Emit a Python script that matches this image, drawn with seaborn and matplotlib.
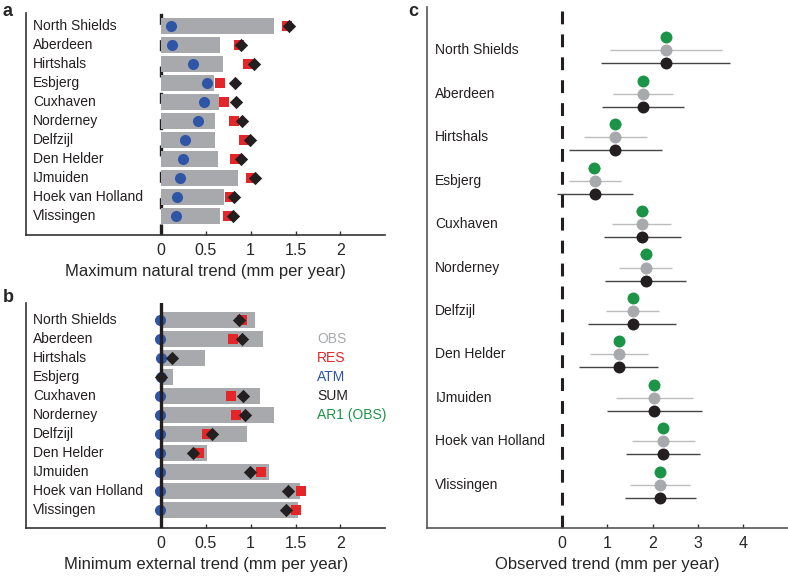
import numpy as np
import pandas as pd
import matplotlib
matplotlib.use("Agg")
import matplotlib.pyplot as plt
import seaborn as sns

stations = ["North Shields", "Aberdeen", "Hirtshals", "Esbjerg", "Cuxhaven", "Norderney",
            "Delfzijl", "Den Helder", "IJmuiden", "Hoek van Holland", "Vlissingen"]

# a: maximum natural trend
a_obs = [1.26, 0.66, 0.69, 0.59, 0.65, 0.60, 0.60, 0.64, 0.86, 0.70, 0.66]
a_res = [1.41, 0.87, 0.97, 0.66, 0.70, 0.81, 0.93, 0.83, 1.01, 0.77, 0.75]
a_atm = [0.11, 0.13, 0.36, 0.51, 0.48, 0.41, 0.27, 0.25, 0.21, 0.18, 0.17]
a_sum = [1.43, 0.89, 1.04, 0.83, 0.84, 0.91, 0.99, 0.89, 1.05, 0.81, 0.80]

# b: minimum external trend (RES hidden behind SUM for Hirtshals / Esbjerg)
b_obs = [1.05, 1.14, 0.49, 0.14, 1.11, 1.26, 0.96, 0.51, 1.20, 1.55, 1.53]
b_res = [0.91, 0.80, np.nan, np.nan, 0.78, 0.84, 0.52, 0.43, 1.12, 1.56, 1.51]
b_atm = [-0.01, -0.01, 0.00, 0.00, -0.01, -0.01, -0.01, -0.01, -0.01, -0.01, -0.01]
b_sum = [0.87, 0.90, 0.13, 0.00, 0.92, 0.94, 0.57, 0.36, 0.99, 1.42, 1.39]

# c: observed trend with uncertainty ranges
c_trend = [2.29, 1.79, 1.18, 0.72, 1.76, 1.85, 1.56, 1.25, 2.04, 2.24, 2.17]
c_ar1 = [2.30, 1.79, 1.18, 0.71, 1.76, 1.85, 1.56, 1.25, 2.04, 2.24, 2.17]
c_ar1_err = [0.08, 0.08, 0.12, 0.13, 0.13, 0.12, 0.08, 0.08, 0.08, 0.08, 0.08]
c_obs_lo = [1.05, 1.13, 0.49, 0.14, 1.11, 1.25, 0.97, 0.61, 1.20, 1.54, 1.51]
c_obs_hi = [3.54, 2.45, 1.87, 1.30, 2.41, 2.44, 2.14, 1.89, 2.89, 2.93, 2.84]
c_sum_lo = [0.86, 0.89, 0.14, -0.12, 0.92, 0.94, 0.58, 0.37, 1.00, 1.42, 1.39]
c_sum_hi = [3.72, 2.69, 2.22, 1.56, 2.63, 2.75, 2.53, 2.13, 3.09, 3.06, 2.97]

legend_items = ["OBS", "RES", "ATM", "SUM", "AR1 (OBS)"]

GREY = "#a7a9ac"
RED = "#e52629"
BLUE = "#2f56a6"
BLACK = "#231f20"
GREEN = "#1c9447"
legend_colors = [GREY, RED, BLUE, BLACK, GREEN]

sns.set_style("white")
plt.rcParams["font.family"] = ["Liberation Sans", "DejaVu Sans"]

rows = np.arange(len(stations))[::-1] + 1

fig = plt.figure(figsize=(7.88, 5.76), dpi=100)
ax_a = fig.add_axes([0.033, 0.592, 0.456, 0.3854])
ax_b = fig.add_axes([0.033, 0.0833, 0.456, 0.3906])
ax_c = fig.add_axes([0.5415, 0.0833, 0.4585, 0.9045])


def trend_panel(ax, obs, res, atm, tot, xlabel, solid_zero):
    df = pd.DataFrame({"station": stations, "row": rows, "obs": obs,
                       "res": res, "atm": atm, "sum": tot})
    if solid_zero:
        ax.axvline(0, color=BLACK, lw=2.4, zorder=3.5)
    else:
        ax.axvline(0, color=BLACK, lw=2.4, ls=(0, (3.3, 4.6)), zorder=1)
    sns.barplot(data=df, x="obs", y="row", orient="y", native_scale=True,
                width=0.85, color=GREY, saturation=1, linewidth=0, ax=ax, zorder=2)
    sns.scatterplot(data=df, x="atm", y="row", color=BLUE, s=64, marker="o",
                    linewidth=0, ax=ax, zorder=3)
    sns.scatterplot(data=df.dropna(subset=["res"]), x="res", y="row", color=RED, s=52,
                    marker="s", linewidth=0, ax=ax, zorder=4)
    sns.scatterplot(data=df, x="sum", y="row", color=BLACK, s=46, marker="D",
                    linewidth=0, ax=ax, zorder=5)
    for name, r in zip(stations, rows):
        ax.text(-1.42, r, name, fontsize=10, va="center", ha="left", color="#231f20")
    ax.set_xlim(-1.5, 2.5)
    ax.set_xticks([0, 0.5, 1, 1.5, 2])
    ax.set_xticklabels(["0", "0.5", "1", "1.5", "2"])
    ax.set_yticks([])
    ax.set_xlabel(xlabel, fontsize=12, labelpad=4)
    ax.set_ylabel("")


trend_panel(ax_a, a_obs, a_res, a_atm, a_sum, "Maximum natural trend (mm per year)", False)
ax_a.set_ylim(0, 11.7)
trend_panel(ax_b, b_obs, b_res, b_atm, b_sum, "Minimum external trend (mm per year)", True)
ax_b.set_ylim(0.05, 11.9)
for i, (lab, col) in enumerate(zip(legend_items, legend_colors)):
    ax_b.text(1.74, rows[1 + i], lab, color=col, fontsize=10, va="center", ha="left")

# c
ax_c.axvline(0, color=BLACK, lw=2.2, ls=(0, (4.2, 3.3)), zorder=1)
ax_c.errorbar(c_trend, rows, xerr=[np.array(c_trend) - np.array(c_obs_lo),
                                   np.array(c_obs_hi) - np.array(c_trend)],
              fmt="o", color=GREY, ecolor="#bdbdbd", elinewidth=1, capsize=2.8,
              capthick=1, markersize=8.6, markeredgewidth=0, zorder=3)
ax_c.errorbar(c_trend, rows - 0.3, xerr=[np.array(c_trend) - np.array(c_sum_lo),
                                         np.array(c_sum_hi) - np.array(c_trend)],
              fmt="o", color=BLACK, ecolor="#444444", elinewidth=1, capsize=2.8,
              capthick=1, markersize=8.6, markeredgewidth=0, zorder=3)
ax_c.errorbar(c_ar1, rows + 0.3, xerr=c_ar1_err, fmt="o", color=GREEN, ecolor=GREEN,
              elinewidth=1, capsize=2.8, capthick=1, markersize=8.6,
              markeredgewidth=0, zorder=3)
for name, r in zip(stations, rows):
    ax_c.text(-2.81, r, name, fontsize=10, va="center", ha="left", color="#231f20")
ax_c.set_xlim(-3, 5)
ax_c.set_ylim(0, 12)
ax_c.set_xticks([0, 1, 2, 3, 4])
ax_c.set_yticks([])
ax_c.set_xlabel("Observed trend (mm per year)", fontsize=12, labelpad=4)

for ax, spine_col in [(ax_a, "#333333"), (ax_b, "#333333"), (ax_c, "#555555")]:
    sns.despine(ax=ax)
    ax.spines["left"].set_color(spine_col)
    ax.spines["bottom"].set_color(spine_col)
    ax.spines["left"].set_linewidth(1.2)
    ax.spines["bottom"].set_linewidth(1.2)
    ax.tick_params(axis="x", direction="in", length=3, width=1, color="#333333",
                   labelsize=11.5, pad=6, bottom=True)

fig.text(0.003, 0.995, "a", fontsize=13, fontweight="bold", va="top", ha="left")
fig.text(0.003, 0.499, "b", fontsize=13, fontweight="bold", va="top", ha="left")
fig.text(0.518, 0.995, "c", fontsize=13, fontweight="bold", va="top", ha="left")

fig.savefig("out.png", dpi=100)
